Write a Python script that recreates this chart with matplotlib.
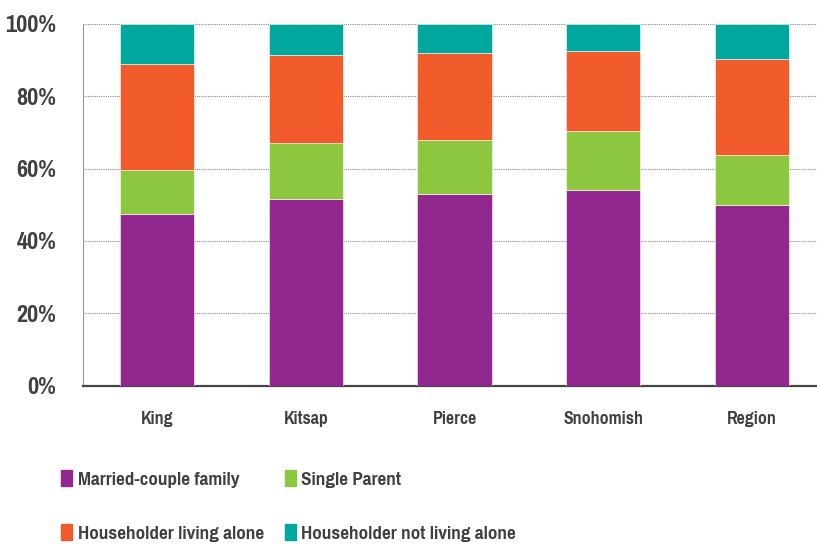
import matplotlib
matplotlib.use("Agg")
import matplotlib.pyplot as plt
from matplotlib.patches import Patch
import numpy as np

# household composition shares (%)
counties = ["King", "Kitsap", "Pierce", "Snohomish", "Region"]
married = [47.4, 51.5, 52.9, 54.1, 49.9]
single_parent = [12.2, 15.5, 14.9, 16.3, 13.9]
living_alone = [29.4, 24.4, 24.1, 22.1, 26.4]
not_alone = [11.0, 8.6, 8.1, 7.5, 9.8]

labels = ["Married-couple family", "Single Parent",
          "Householder living alone", "Householder not living alone"]
colors = ["#92278F", "#8DC63F", "#F15A2B", "#00A79D"]

fam = ["Pragati Narrow", "Roboto Condensed", "DejaVu Sans"]
plt.rcParams["font.family"] = fam
txt = "#404040"

fig = plt.figure(figsize=(8.17, 5.44), dpi=100)
ax = fig.add_axes([0.1016, 0.291, 0.904, 0.665])

x = np.arange(len(counties))
series = [married, single_parent, living_alone, not_alone]
bottom = np.zeros(len(counties))
for vals, col, lab in zip(series, colors, labels):
    ax.bar(x, vals, 0.5, bottom=bottom, color=col, label=lab,
           edgecolor="white", linewidth=0.4, zorder=3)
    bottom += np.array(vals)

ax.set_ylim(0, 100)
ax.set_xlim(-0.5, 4.47)
ax.set_yticks(range(0, 101, 20))
ax.set_yticklabels([f"{v}%" for v in range(0, 101, 20)])
ax.set_xticks(x)
ax.set_xticklabels(counties)
ax.tick_params(axis="y", length=0, pad=19, labelsize=19, labelcolor=txt)
ax.tick_params(axis="x", length=0, pad=18, labelsize=14, labelcolor=txt)
for t in ax.get_xticklabels() + ax.get_yticklabels():
    t.set_fontweight("bold")

ax.grid(axis="y", linestyle=(0, (1, 1)), color="#888888", linewidth=0.8, zorder=0)
for s in ["top", "right"]:
    ax.spines[s].set_visible(False)
ax.spines["left"].set_color("#999999")
ax.spines["left"].set_linewidth(0.8)
ax.spines["bottom"].set_color("#444444")
ax.spines["bottom"].set_linewidth(1.6)

handles = [Patch(color=c) for c in colors]
order = [0, 2, 1, 3]
leg = fig.legend([handles[i] for i in order], [labels[i] for i in order],
                 ncol=2, loc="upper left", bbox_to_anchor=(61 / 817, 1 - 470 / 544),
                 frameon=False, borderpad=0, borderaxespad=0,
                 handlelength=0.55, handleheight=0.8, handletextpad=0.25,
                 labelspacing=1.7, columnspacing=1.0,
                 prop={"size": 15, "weight": "bold", "family": fam})
for t in leg.get_texts():
    t.set_color(txt)

fig.savefig("out.png", dpi=100)
